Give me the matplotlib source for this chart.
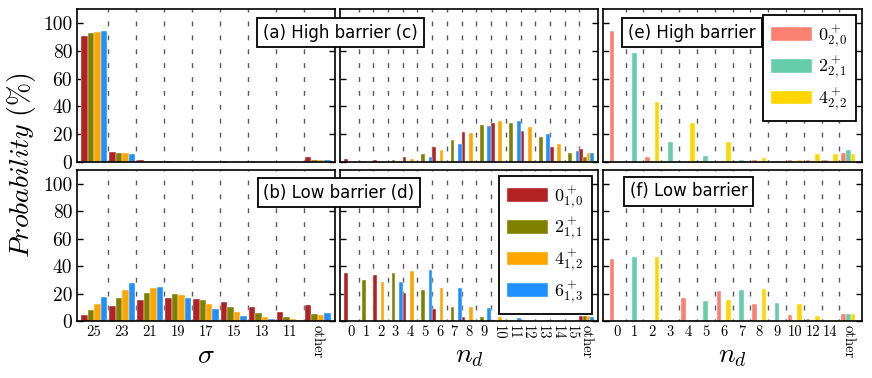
import numpy as np
import matplotlib
matplotlib.use('Agg')
from matplotlib import pyplot as plt

plt.rcParams['mathtext.fontset'] = 'cm'

# sigma panels (a), (b)
sigma_labels = ['25', '23', '21', '19', '17', '15', '13', '11', 'other']
high_s0 = [90.3, 7.0, 1.5, 0.7, 0.5, 0.4, 0.4, 0.3, 3.9]
high_s2 = [93.0, 6.8, 1.0, 0.3, 0.2, 0.2, 0.2, 0.2, 1.7]
high_s4 = [93.8, 6.3, 1.0, 0.3, 0.2, 0.2, 0.1, 0.1, 1.2]
high_s6 = [94.5, 5.8, 0.9, 0.3, 0.2, 0.1, 0.1, 0.1, 1.2]
low_s0 = [4.4, 10.7, 15.3, 16.9, 16.0, 13.5, 10.1, 6.9, 11.5]
low_s2 = [7.9, 16.6, 20.7, 19.4, 15.0, 10.1, 5.9, 3.1, 4.8]
low_s4 = [12.1, 22.4, 23.7, 18.8, 12.1, 6.4, 2.8, 1.4, 4.5]
low_s6 = [17.2, 27.6, 25.0, 16.5, 8.6, 3.8, 1.3, 0.6, 5.6]

# n_d panels (c), (d)
nd_labels = ['0', '1', '2', '3', '4', '5', '6', '7', '8', '9', '10', '11',
             '12', '13', '14', '15', 'other']
high_n0 = [2.2, 0, 1.2, 0, 3.4, 0, 10.7, 0, 21.5, 0, 27.8, 0, 22.3, 0, 10.7, 0, 9.7]
high_n2 = [0, 0.7, 0, 1.5, 0, 5.6, 0, 15.5, 0, 26.6, 0, 27.8, 0, 17.9, 0, 6.8, 3.4]
high_n4 = [0, 0, 0.5, 0, 2.4, 0, 8.7, 0, 20.8, 0, 29.3, 0, 24.9, 0, 12.6, 0, 6.8]
high_n6 = [0, 0, 0, 0.5, 0, 3.9, 0, 13.0, 0, 25.9, 0, 29.8, 0, 20.3, 0, 8.2, 6.3]
low_n0 = [35.1, 0, 33.7, 0, 20.6, 0, 8.7, 0, 3.1, 0, 0.7, 0, 0.2, 0, 0.1, 0, 3.9]
low_n2 = [0, 30.0, 0, 35.1, 0, 22.8, 0, 10.2, 0, 3.1, 0, 1.0, 0, 0.2, 0, 0.1, 3.6]
low_n4 = [0, 0, 28.3, 0, 36.3, 0, 24.0, 0, 9.9, 0, 2.9, 0, 0.7, 0, 0.2, 0, 3.6]
low_n6 = [0, 0, 0, 28.3, 0, 37.0, 0, 24.0, 0, 9.4, 0, 2.4, 0, 0.7, 0, 0.2, 3.1]

# n_d panels (e), (f)
nd2_labels = ['0', '1', '2', '3', '4', '5', '6', '7', '8', '9', '10', '12', '14', 'other']
high_m0 = [94.1, 0, 3.7, 0, 0.3, 0, 0.2, 0, 1.3, 0, 1.5, 1.5, 1.3, 6.6]
high_m2 = [0, 78.3, 0, 14.7, 0, 4.2, 0, 1.3, 0, 0.6, 0, 0, 0, 8.5]
high_m4 = [0, 0, 43.0, 0, 27.9, 0, 14.3, 0, 2.8, 0, 1.5, 6.1, 5.9, 6.1]
low_m0 = [45.5, 0, 0, 0, 16.5, 0, 22.0, 0, 12.6, 0, 4.4, 1.2, 0.3, 5.1]
low_m2 = [0, 46.7, 0, 0.5, 0, 14.8, 0, 22.5, 0, 12.8, 0, 0, 0, 5.1]
low_m4 = [0, 0, 46.7, 0, 0.7, 0, 15.0, 0, 23.0, 0, 12.3, 3.6, 0.7, 4.8]

band1_names = [r'$0^+_{1,0}$', r'$2^+_{1,1}$', r'$4^+_{1,2}$', r'$6^+_{1,3}$']
band2_names = [r'$0^+_{2,0}$', r'$2^+_{2,1}$', r'$4^+_{2,2}$']
band1_colors = ['#b22222', '#808000', '#ffa500', '#1e90ff']
band2_colors = ['#fa8072', '#66cdaa', '#ffd700']

yticks = [0, 20, 40, 60, 80, 100]


def draw_panel(ax, labels, series, colors, names, width, margin, ylabels, xlabels):
    n = len(labels)
    m = len(series)
    x = np.arange(n)
    for k, vals in enumerate(series):
        ax.bar(x + (k - (m - 1) / 2) * width, vals, width=width, color=colors[k],
               edgecolor='white', linewidth=0.3, label=names[k], zorder=2)
    for b in np.arange(n - 1) + 0.5:
        ax.axvline(b, color='0.35', lw=1.0, linestyle=(2, (3.5, 6.5)), zorder=1)
    ax.set_xlim(-0.5 - margin, n - 0.5 + margin)
    ax.set_ylim(0, 110)
    ax.set_xticks(x)
    if xlabels:
        ax.set_xticklabels(labels, fontfamily='cmr10', fontsize=10.5)
        for t in ax.get_xticklabels():
            if len(t.get_text()) > 2 or (n == 17 and len(t.get_text()) > 1):
                t.set_rotation(270)
                t.set_va('top')
    else:
        ax.set_xticklabels([])
    ax.tick_params(axis='x', length=0, pad=3)
    ax.set_yticks(yticks)
    if ylabels:
        ax.set_yticklabels([str(v) for v in yticks], fontfamily='cmr10', fontsize=14)
    else:
        ax.set_yticklabels([])
    ax.tick_params(axis='y', direction='in', left=True, right=True, length=4, width=1)
    for s in ax.spines.values():
        s.set_linewidth(1.2)


fig = plt.figure(figsize=(8.72, 3.78), dpi=100)
W, H = 872.0, 378.0
cols = [(77, 258), (340, 258), (603, 259)]
rows = [(9, 153), (170, 151)]
axes = [[fig.add_axes([c[0] / W, 1 - (r[0] + r[1]) / H, c[1] / W, r[1] / H]) for c in cols]
        for r in rows]

draw_panel(axes[0][0], sigma_labels, [high_s0, high_s2, high_s4, high_s6],
           band1_colors, band1_names, 0.232, 0.11, True, False)
draw_panel(axes[1][0], sigma_labels, [low_s0, low_s2, low_s4, low_s6],
           band1_colors, band1_names, 0.232, 0.11, True, True)
draw_panel(axes[0][1], nd_labels, [high_n0, high_n2, high_n4, high_n6],
           band1_colors, band1_names, 0.25, 0.26, False, False)
draw_panel(axes[1][1], nd_labels, [low_n0, low_n2, low_n4, low_n6],
           band1_colors, band1_names, 0.25, 0.26, False, True)
draw_panel(axes[0][2], nd2_labels, [high_m0, high_m2, high_m4],
           band2_colors, band2_names, 0.265, 0.27, False, False)
draw_panel(axes[1][2], nd2_labels, [low_m0, low_m2, low_m4],
           band2_colors, band2_names, 0.265, 0.27, False, True)

leg_kw = dict(loc='upper right', fontsize=13, frameon=True, fancybox=False,
              framealpha=1, edgecolor='black', handlelength=2.25, handleheight=0.8,
              labelspacing=0.3, handletextpad=0.35, borderpad=0.45, borderaxespad=0.35)
leg = axes[1][1].legend(**leg_kw)
leg.get_frame().set_linewidth(1.3)
leg = axes[0][2].legend(**leg_kw)
leg.get_frame().set_linewidth(1.3)

box = dict(boxstyle='square,pad=0.35', facecolor='white', edgecolor='black', linewidth=1.3)
fig.text(340.5 / W, 1 - 32.5 / H, '(a) High barrier (c)', fontsize=12, ha='center',
         va='center', bbox=box, zorder=10)
fig.text(339 / W, 1 - 192.5 / H, '(b) Low barrier (d)', fontsize=12, ha='center',
         va='center', bbox=box, zorder=10)
fig.text(692 / W, 1 - 32.5 / H, '(e) High barrier', fontsize=12, ha='center',
         va='center', bbox=box, zorder=10)
fig.text(688.5 / W, 1 - 191.5 / H, '(f) Low barrier', fontsize=12, ha='center',
         va='center', bbox=box, zorder=10)

for ax, lab in zip(axes[1], [r'$\sigma$', r'$n_d$', r'$n_d$']):
    ax.text(0.5, -0.225, lab, transform=ax.transAxes, ha='center', va='center', fontsize=20)

fig.text(22 / W, 1 - 165 / H, r'$Probability\ (\%)$', rotation=90, ha='center',
         va='center', fontsize=20)

fig.savefig('out.png', dpi=100)
